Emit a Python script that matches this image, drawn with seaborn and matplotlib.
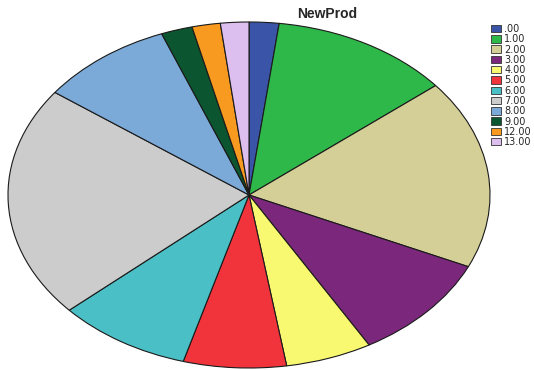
import matplotlib
matplotlib.use("Agg")
import matplotlib.pyplot as plt
import seaborn as sns
from matplotlib.patches import Patch

sns.set_theme(style="white")
plt.rcParams["font.family"] = ["Liberation Sans", "DejaVu Sans"]

categories = [".00", "1.00", "2.00", "3.00", "4.00", "5.00", "6.00",
              "7.00", "8.00", "9.00", "12.00", "13.00"]
shares = [2.0, 12.1, 17.7, 9.9, 5.8, 6.9, 9.0, 21.7, 9.0, 2.1, 1.9, 1.9]
hex_colors = ["#3a55a8", "#2fb84a", "#d4ce97", "#7b287c", "#f9f871", "#f1343b",
              "#4ac0c6", "#cccccc", "#7ba9d8", "#0b5530", "#f89a1f", "#dcbfee"]
palette = sns.color_palette(hex_colors)

fig = plt.figure(figsize=(5.34, 3.70), dpi=100)
ax = fig.add_axes([8 / 534, 2 / 370, 482 / 534, 346 / 370])

ax.pie(shares, colors=palette, startangle=90, counterclock=False,
       radius=1.0, wedgeprops=dict(edgecolor="#1a1a1a", linewidth=0.8))
ax.set_aspect("auto")
ax.set_xlim(-1.0, 1.0)
ax.set_ylim(-1.0, 1.0)
ax.axis("off")

fig.text(327 / 534, 1 - 14 / 370, "NewProd", ha="center", va="center",
         fontsize=10, fontweight="bold")

handles = [Patch(facecolor=c, edgecolor="#333333", linewidth=0.6) for c in palette]
fig.legend(handles, categories, loc="upper left",
           bbox_to_anchor=(489 / 534, 1 - 22 / 370), frameon=False,
           prop={"family": "DejaVu Sans", "size": 7},
           handlelength=1.05, handleheight=0.8, handletextpad=0.3,
           labelspacing=0.03, borderpad=0.2, borderaxespad=0)

fig.savefig("out.png", dpi=100)
